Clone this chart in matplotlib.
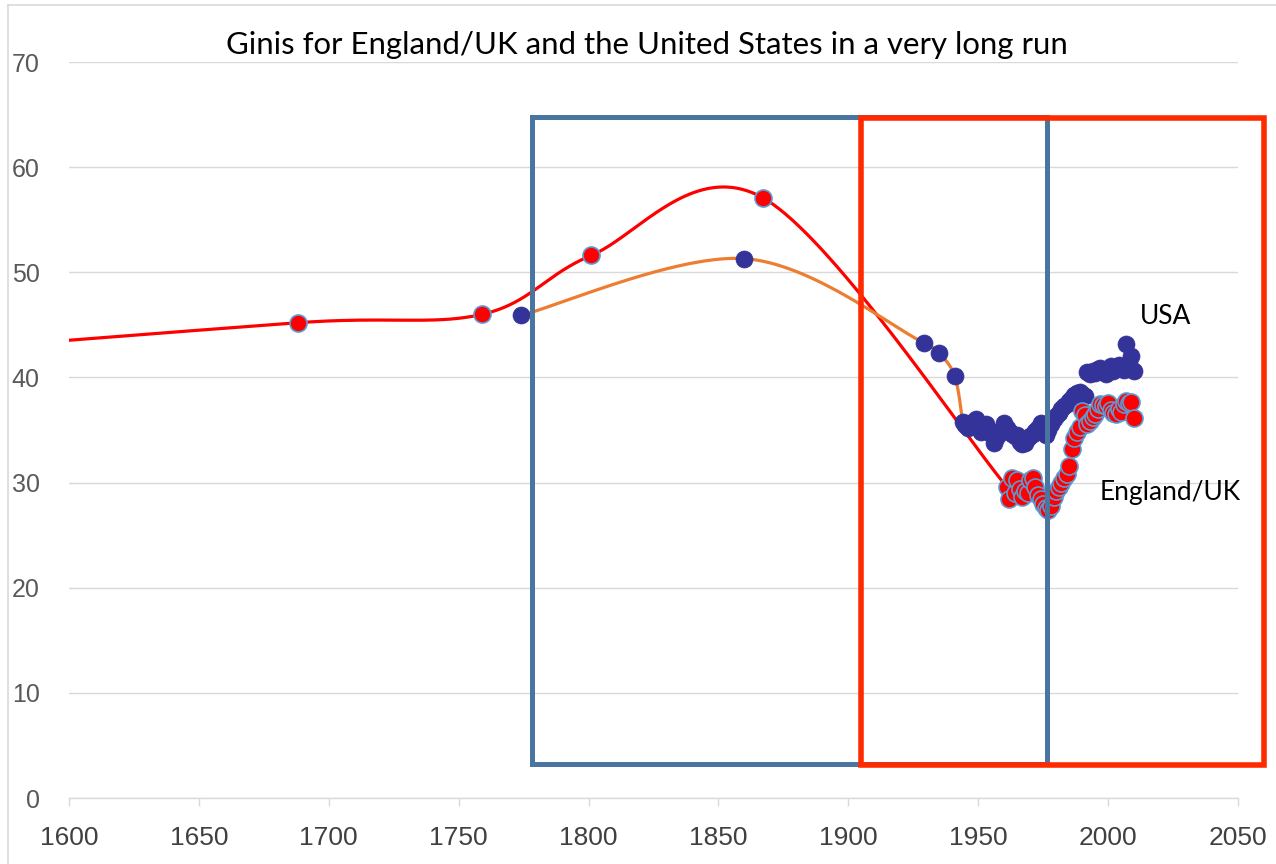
import numpy as np
import matplotlib
matplotlib.use("Agg")
import matplotlib.pyplot as plt
from matplotlib.patches import Rectangle
from matplotlib.lines import Line2D
from matplotlib import font_manager

# ---------------- data ----------------
eng_years = [1290, 1688, 1759, 1801, 1867]
eng_gini = [37.5, 45.2, 46.0, 51.6, 57.1]

uk_years = list(range(1961, 2011))
uk_gini = [29.6, 28.4, 30.4, 29.0, 30.2, 29.4, 28.6, 29.2, 29.0, 30.2,
           30.4, 29.6, 28.8, 28.4, 28.0, 27.6, 27.4, 27.8, 28.6, 29.2,
           29.6, 30.0, 30.4, 30.8, 31.6, 33.2, 34.2, 34.8, 35.3, 36.8,
           36.4, 35.6, 35.9, 36.2, 36.5, 37.0, 37.5, 37.4, 37.3, 37.6,
           36.9, 36.6, 36.5, 37.0, 36.7, 37.5, 37.8, 37.6, 37.7, 36.1]

us_years = [1774, 1860, 1929, 1935, 1941]
us_gini = [45.9, 51.3, 43.3, 42.3, 40.1]

usm_years = list(range(1944, 2011))
usm_gini = [35.8, 35.5, 35.2, 35.7, 35.4, 36.0, 35.5, 34.8, 35.0, 35.6,
            35.0, 34.6, 33.8, 34.2, 34.6, 35.0, 35.7, 35.2, 34.9, 34.6,
            34.4, 34.5, 33.9, 33.7, 33.8, 34.2, 34.4, 34.6, 34.9, 35.2,
            35.7, 35.0, 34.5, 35.0, 35.6, 36.0, 36.3, 36.6, 37.0, 37.3,
            37.5, 37.8, 38.0, 38.3, 38.5, 38.6, 38.4, 38.2, 40.5, 40.3,
            40.6, 40.4, 40.8, 40.9, 40.7, 40.3, 40.7, 41.1, 40.6, 40.9,
            41.2, 41.0, 40.7, 43.2, 41.4, 42.0, 40.6]

x_ticks = [1600, 1650, 1700, 1750, 1800, 1850, 1900, 1950, 2000, 2050]
y_ticks = [0, 10, 20, 30, 40, 50, 60, 70]

title = "Ginis for England/UK and the United States in a very long run"


def excel_smooth(xs, ys, n=80):
    """Cubic Bezier smoothing (Catmull-Rom style), with handles clamped
    so they never reach past half of their own segment."""
    pts = np.column_stack([xs, ys]).astype(float)
    out = [pts[0]]
    t = np.linspace(0, 1, n)[1:, None]
    for i in range(len(pts) - 1):
        p0 = pts[i - 1] if i > 0 else pts[i]
        p1 = pts[i]
        p2 = pts[i + 1]
        p3 = pts[i + 2] if i + 2 < len(pts) else pts[i + 1]
        span = p2[0] - p1[0]
        h1 = (p2 - p0) / 6.0
        h2 = (p3 - p1) / 6.0
        if abs(h1[0]) > 0.5 * span:
            h1 = h1 * (0.5 * span / abs(h1[0]))
        if abs(h2[0]) > 0.5 * span:
            h2 = h2 * (0.5 * span / abs(h2[0]))
        c1 = p1 + h1
        c2 = p2 - h2
        seg = ((1 - t) ** 3) * p1 + 3 * ((1 - t) ** 2) * t * c1 + 3 * (1 - t) * t ** 2 * c2 + t ** 3 * p2
        out.extend(seg)
    return np.array(out)


names = {f.name for f in font_manager.fontManager.ttflist}
text_font = "Lato" if "Lato" in names else "DejaVu Sans"
tick_font = "Liberation Sans" if "Liberation Sans" in names else "DejaVu Sans"

fig = plt.figure(figsize=(12.76, 8.64), dpi=100)
ax = fig.add_axes([69 / 1276, 1 - 798 / 864, (1238 - 69) / 1276, (798 - 62) / 864])

grid_c = "#D9D9D9"
ax.set_xlim(1600, 2050)
ax.set_ylim(0, 70)
ax.set_yticks(y_ticks)
ax.set_xticks(x_ticks)
ax.set_xticklabels([str(v) for v in x_ticks], fontsize=19, family=tick_font, color="#404040")
ax.set_yticklabels([str(v) for v in y_ticks], fontsize=18, family=tick_font, color="#595959")
ax.tick_params(axis="y", length=0, pad=21)
ax.tick_params(axis="x", length=6, width=1, color=grid_c, pad=14)
ax.grid(axis="y", color=grid_c, lw=1.0)
ax.set_axisbelow(True)
for s in ["top", "right", "left"]:
    ax.spines[s].set_visible(False)
ax.spines["bottom"].set_color(grid_c)
ax.spines["bottom"].set_linewidth(1.0)

# England line (smoothed) through historical points to first modern point
ex = eng_years + [uk_years[0]]
ey = eng_gini + [uk_gini[0]]
sm = excel_smooth(ex, ey)
ax.plot(sm[:, 0], sm[:, 1], color="#FF0000", lw=2.3, zorder=2, solid_capstyle="round")

# USA line (smoothed)
ux = us_years + [usm_years[0]]
uy = us_gini + [usm_gini[0]]
sm2 = excel_smooth(ux, uy)
ax.plot(sm2[:, 0], sm2[:, 1], color="#ED7D31", lw=2.3, zorder=2)

# markers
ax.scatter(us_years + usm_years, us_gini + usm_gini, s=150, color="#333399",
           edgecolors="#333399", linewidths=0.5, zorder=3)
ax.scatter(eng_years[1:] + uk_years, eng_gini[1:] + uk_gini, s=150, color="#FF0000",
           edgecolors="#5B9BD5", linewidths=1.2, zorder=4)

# rectangles
ax.add_patch(Rectangle((1778.2, 3.19), 1976.6 - 1778.2, 64.77 - 3.19, fill=False,
                       edgecolor="#4A75A0", lw=3.6, clip_on=False, zorder=5))
ax.add_patch(Rectangle((1904.7, 3.14), 2059.9 - 1904.7, 64.68 - 3.14, fill=False,
                       edgecolor="#FF2A00", lw=4.0, clip_on=False, zorder=6))

# labels
ax.text(2012.2, 45.75, "USA", fontsize=19, family=text_font, va="center", ha="left", zorder=7)
ax.text(1996.8, 29.1, "England/UK", fontsize=19, family=text_font, va="center", ha="left", zorder=7)

fig.text(646.5 / 1276, 1 - 45 / 864, title, fontsize=22.4, family=text_font,
         ha="center", va="center")

# chart border (left and top)
fig.add_artist(Line2D([8 / 1276, 8 / 1276], [0, 1 - 5 / 864], color=grid_c, lw=1.2,
                      transform=fig.transFigure))
fig.add_artist(Line2D([8 / 1276, 1], [1 - 5 / 864, 1 - 5 / 864], color=grid_c, lw=1.2,
                      transform=fig.transFigure))

fig.savefig("out.png", dpi=100, facecolor="white")
